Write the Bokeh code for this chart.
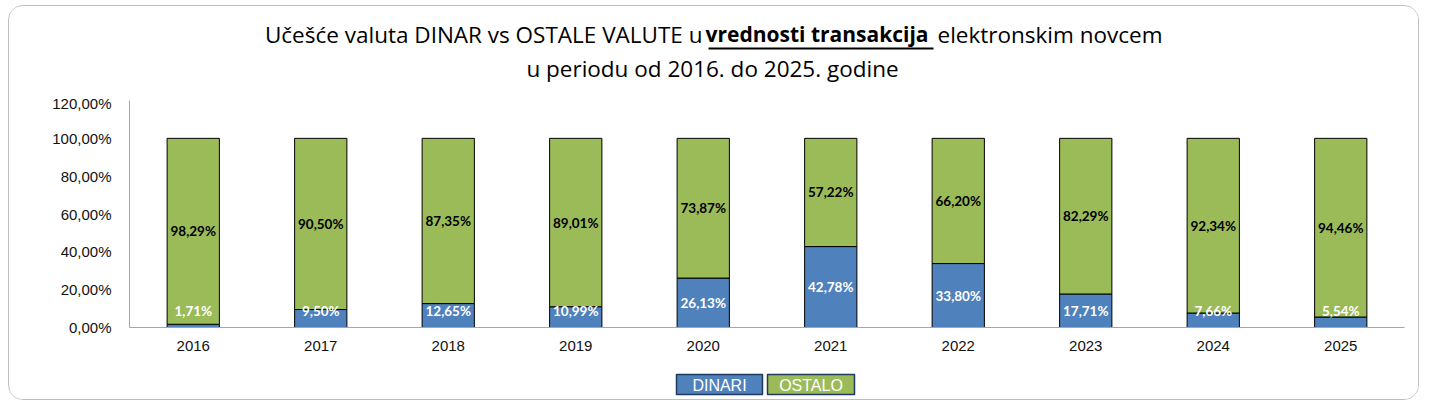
from bokeh.plotting import figure
from bokeh.layouts import column
from bokeh.models import (ColumnDataSource, LabelSet, FixedTicker, Range1d, FactorRange)
from bokeh.core.properties import value
from bokeh.embed import file_html
from bokeh.resources import INLINE

# ---- data ----
years = ["2016", "2017", "2018", "2019", "2020", "2021", "2022", "2023", "2024", "2025"]
dinari = [1.71, 9.50, 12.65, 10.99, 26.13, 42.78, 33.80, 17.71, 7.66, 5.54]
ostalo = [98.29, 90.50, 87.35, 89.01, 73.87, 57.22, 66.20, 82.29, 92.34, 94.46]
y_ticks = [0, 20, 40, 60, 80, 100, 120]
y_tick_labels = ["0,00%", "20,00%", "40,00%", "60,00%", "80,00%", "100,00%", "120,00%"]
series_names = ["DINARI", "OSTALO"]
title_part1 = "Učešće valuta DINAR vs OSTALE VALUTE u"
title_part2 = "vrednosti transakcija"
title_part3 = "elektronskim novcem"
title_line2 = "u periodu od 2016. do 2025. godine"

BLUE = "#4F81BD"
GREEN = "#9BBB59"
W = 1409          # inner width of the framed box
OX, OY = 9, 6     # page offset of the inner box
FL, FR = 129, 1404  # page x of the plot frame (all frames in the column align)
MB_L = FL - OX
MB_R = W - (FR - OX)


def fmt(v):
    return f"{v:.2f}".replace(".", ",") + "%"


def blank_fig(h, top):
    # data coordinates of these helper figures are page pixels
    f = figure(width=W, height=h, x_range=Range1d(FL, FR), y_range=Range1d(top + h, top),
               x_axis_type=None, y_axis_type=None, output_backend="svg",
               toolbar_location=None, min_border_left=MB_L, min_border_right=MB_R,
               min_border_top=0, min_border_bottom=0)
    f.outline_line_color = None
    f.grid.visible = False
    f.background_fill_color = "white"
    f.border_fill_color = "white"
    return f


# ---------------- title figure ----------------
TH = 88
tf = blank_fig(TH, OY)
TFONT = value("Open Sans")
TS = "22.5px"
TSB = "21px"
mid1 = 33.5
mid2 = 67.5
tf.text(x=[702], y=[mid1], text=[title_part1], text_align="right",
        text_baseline="middle", text_font=TFONT, text_font_size=TS,
        text_color="black")
tf.text(x=[816.5], y=[mid1], text=[title_part2], text_align="center",
        text_baseline="middle", text_font=TFONT, text_font_style="bold",
        text_font_size=TSB, text_color="black")
tf.text(x=[937], y=[mid1], text=[title_part3], text_align="left",
        text_baseline="middle", text_font=TFONT, text_font_size=TS,
        text_color="black")
tf.quad(left=[708], right=[933], top=[47], bottom=[49],
        fill_color="black", line_color=None)
tf.text(x=[712], y=[mid2], text=[title_line2], text_align="center",
        text_baseline="middle", text_font=TFONT, text_font_size=TS,
        text_color="black")

# ---------------- main chart ----------------
src = ColumnDataSource(dict(
    years=years,
    dinari=dinari,
    ostalo=ostalo,
    dinari_y=[max(d / 2, 8.5) for d in dinari],
    ostalo_y=[d + o / 2 for d, o in zip(dinari, ostalo)],
    dinari_txt=[fmt(v) for v in dinari],
    ostalo_txt=[fmt(v) for v in ostalo],
))

MAIN_TOP = OY + TH          # page y 94
MAIN_H = 360 - MAIN_TOP
p = figure(width=W, height=MAIN_H, x_range=FactorRange(*years, range_padding=0),
           y_range=Range1d(0, 120), output_backend="svg", toolbar_location=None,
           min_border_left=MB_L, min_border_right=MB_R,
           min_border_top=100 - MAIN_TOP, min_border_bottom=360 - 327)
p.outline_line_color = None
p.background_fill_color = "white"
p.border_fill_color = "white"
p.grid.visible = False

p.vbar_stack(["dinari", "ostalo"], x="years", width=0.41, source=src,
             color=[BLUE, GREEN], line_color="black", line_width=1)

p.add_layout(LabelSet(x="years", y="dinari_y", text="dinari_txt", source=src,
                      text_align="center", text_baseline="middle",
                      text_font=value("Lato"), text_font_style="bold",
                      text_font_size="13.5px", text_color="white"))
p.add_layout(LabelSet(x="years", y="ostalo_y", text="ostalo_txt", source=src,
                      text_align="center", text_baseline="middle",
                      text_font=value("Lato"), text_font_style="bold",
                      text_font_size="13.5px", text_color="black"))

p.yaxis.ticker = FixedTicker(ticks=y_ticks)
p.yaxis.major_label_overrides = {t: l for t, l in zip(y_ticks, y_tick_labels)}
for ax in (p.xaxis[0], p.yaxis[0]):
    ax.axis_line_color = "#A6A6A6"
    ax.axis_line_width = 1
    ax.major_tick_line_color = None
    ax.minor_tick_line_color = None
    ax.major_label_text_font = "Liberation Sans"
    ax.major_label_text_font_size = "15px"
    ax.major_label_text_color = "#111111"
p.yaxis.major_label_standoff = 12
p.xaxis.major_label_standoff = 7

# ---------------- legend figure ----------------
LT = 360
LH = 399 - LT
lf = blank_fig(LH, LT)
leg_left = [676, 767]
leg_right = [762, 854]
lsrc = ColumnDataSource(dict(
    name=series_names, color=[BLUE, GREEN], left=leg_left, right=leg_right,
    xc=[(a + b) / 2 for a, b in zip(leg_left, leg_right)],
))
lf.quad(left="left", right="right", top=374, bottom=394, source=lsrc,
        fill_color="color", line_color="#1F3A5F", line_width=1.5)
lf.text(x="xc", y=384.5, text="name", source=lsrc,
        text_align="center", text_baseline="middle",
        text_font=value("Liberation Sans"), text_font_size="16px",
        text_color="white")

layout = column(tf, p, lf, spacing=0,
                styles={"margin-left": "8px", "margin-top": "5px",
                        "border": "1px solid #BFBFBF", "border-radius": "15px",
                        "overflow": "hidden", "background-color": "white"})

open("out.html", "w").write(file_html(layout, INLINE))
